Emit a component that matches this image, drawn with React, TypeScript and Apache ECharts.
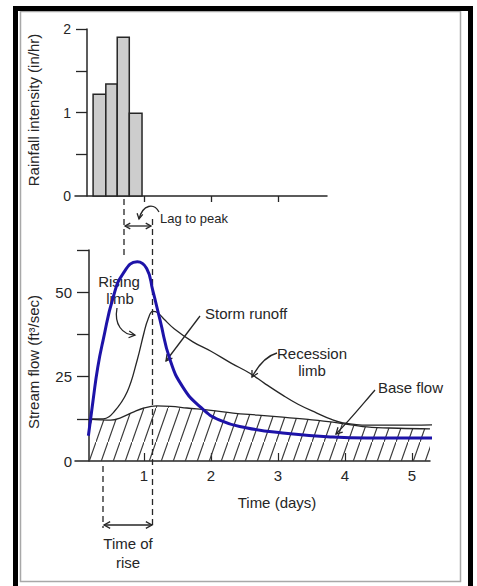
import React, { useEffect, useRef } from "react";
import * as echarts from "echarts";

// Rainfall hyetograph (in/hr), blocks defined by start/end time (days)
const rainStart = [0.24, 0.43, 0.6, 0.78];
const rainEnd = [0.43, 0.6, 0.78, 0.97];
const rainIntensity = [1.22, 1.34, 1.9, 0.99];

// Total stream flow (storm hydrograph), ft3/sec
const stormTime = [0.18, 0.39, 0.55, 0.75, 0.9, 1.0, 1.06, 1.13, 1.2, 1.3, 1.45, 1.73, 2.0, 2.3, 2.58, 2.8, 3.07, 3.3, 3.58, 3.8, 3.97, 4.33, 5.0, 5.52];
const stormFlow = [12.5, 12.5, 14.5, 20.5, 30, 38, 42, 44.3, 44.0, 42, 39.2, 35.3, 32.5, 29, 26, 23, 19.5, 16.8, 14.2, 12.3, 11.3, 10.6, 10.6, 10.8];

// Base flow (hatched area)
const baseTime = [0.18, 0.35, 0.5, 0.65, 0.84, 1.0, 1.19, 1.4, 1.64, 2.0, 2.33, 2.7, 3.07, 3.45, 3.82, 4.33, 4.8, 5.27];
const baseFlow = [12.4, 12.2, 12.1, 12.8, 14.5, 15.7, 16.3, 16.2, 15.7, 15.0, 14.2, 13.6, 13.0, 12.3, 11.5, 10.1, 9.7, 9.5];

// Overlaid blue hydrograph
const blueTime = [0.17, 0.24, 0.31, 0.39, 0.54, 0.69, 0.9, 1.04, 1.13, 1.24, 1.39, 1.58, 1.84, 2.13, 2.54, 3.07, 3.82, 4.33, 5.84];
const blueFlow = [7.5, 18, 27.8, 35.8, 48.5, 55.6, 59, 57, 50.6, 41.7, 29.9, 21.9, 16, 12.1, 9.8, 8.3, 7.1, 6.8, 6.8];

// Axis ticks / labels
const rainTicks = [0.5, 1, 1.5, 2];
const rainLabels = [0, 1, 2];
const topDayTicks = [1, 2, 3];
const flowTicks = [12.5, 25, 37.5, 50, 62.5];
const flowLabels = [0, 25, 50];
const dayTicks = [1, 2, 3, 4, 5];
const dayLabels = [1, 2, 3, 4, 5];

const FONT = '"Liberation Sans", Arial, sans-serif';
const INK = "#262626";

const hatchSvg =
  '<svg xmlns="http://www.w3.org/2000/svg" width="12" height="34">' +
  '<line x1="-12" y1="68" x2="24" y2="-34" stroke="#3a3a3a" stroke-width="1.2"/></svg>';
const hatchUrl = "data:image/svg+xml;charset=utf-8," + encodeURIComponent(hatchSvg);

function head(x: number, y: number, ang: number, size = 7, z = 6) {
  const a1 = ang + Math.PI - 0.5;
  const a2 = ang + Math.PI + 0.5;
  return {
    type: "polyline",
    z,
    shape: {
      points: [
        [x + size * Math.cos(a1), y + size * Math.sin(a1)],
        [x, y],
        [x + size * Math.cos(a2), y + size * Math.sin(a2)],
      ],
    },
    style: { stroke: INK, lineWidth: 1.3, fill: "none" },
  };
}

function txt(text: string, x: number, y: number, size = 15, align = "left", extra: any = {}) {
  return {
    type: "text",
    z: 1,
    x,
    y,
    ...extra,
    style: {
      text,
      fill: INK,
      fontSize: size,
      fontFamily: FONT,
      align,
      verticalAlign: "middle",
    },
  };
}

function line(x1: number, y1: number, x2: number, y2: number, dashed = false) {
  return {
    type: "line",
    z: 6,
    shape: { x1, y1, x2, y2 },
    style: { stroke: INK, lineWidth: 1.3, lineDash: dashed ? [6, 4] : null },
  };
}

function curve(x1: number, y1: number, cx1: number, cy1: number, cx2: number, cy2: number, x2: number, y2: number) {
  return {
    type: "bezierCurve",
    z: 6,
    shape: { x1, y1, cpx1: cx1, cpy1: cy1, cpx2: cx2, cpy2: cy2, x2, y2 },
    style: { stroke: INK, lineWidth: 1.3, fill: "none" },
  };
}

export default function App() {
  const ref = useRef<HTMLDivElement>(null);

  useEffect(() => {
    if (!ref.current) return;
    const chart = echarts.init(ref.current, null, { renderer: "svg" });

    const axisLabelBase = { color: INK, fontSize: 15, fontFamily: FONT };

    const option: any = {
      animation: false,
      backgroundColor: "#ffffff",
      grid: [
        { left: 75, top: 29, width: 252, height: 167 },
        { left: 75, top: 250, width: 355, height: 211 },
      ],
      xAxis: [
        {
          type: "value",
          gridIndex: 0,
          min: -0.03,
          max: 3.73,
          splitLine: { show: false },
          axisLine: { lineStyle: { color: INK, width: 1.5 } },
          axisTick: { customValues: topDayTicks, length: 6, lineStyle: { color: INK, width: 1.3 } },
          axisLabel: { show: false },
        },
        {
          type: "value",
          gridIndex: 1,
          min: -0.03,
          max: 5.27,
          splitLine: { show: false },
          axisLine: { lineStyle: { color: INK, width: 1.5 } },
          axisTick: { customValues: dayTicks, inside: true, length: 8, lineStyle: { color: INK, width: 1.2 } },
          axisLabel: { ...axisLabelBase, customValues: dayLabels, margin: 7 },
        },
      ],
      yAxis: [
        {
          type: "value",
          gridIndex: 0,
          min: 0,
          max: 2,
          offset: -12,
          splitLine: { show: false },
          axisLine: { show: true, lineStyle: { color: INK, width: 1.5 } },
          axisTick: { show: true, customValues: rainTicks, length: 11, lineStyle: { color: INK, width: 1.3 } },
          axisLabel: { ...axisLabelBase, fontSize: 14, customValues: rainLabels, margin: 16 },
        },
        {
          type: "value",
          gridIndex: 1,
          min: 0,
          max: 62.5,
          offset: -14,
          splitLine: { show: false },
          axisLine: { show: true, lineStyle: { color: INK, width: 1.5 } },
          axisTick: { show: true, customValues: flowTicks, length: 12, lineStyle: { color: INK, width: 1.3 } },
          axisLabel: { ...axisLabelBase, customValues: flowLabels, margin: 17 },
        },
      ],
      series: [
        {
          type: "custom",
          xAxisIndex: 0,
          yAxisIndex: 0,
          data: rainStart.map((s, i) => [s, rainEnd[i], rainIntensity[i]]),
          encode: { x: [0, 1], y: 2 },
          renderItem: (params: any, api: any) => {
            const p0 = api.coord([api.value(0), api.value(2)]);
            const p1 = api.coord([api.value(1), 0]);
            return {
              type: "rect",
              shape: { x: p0[0], y: p0[1], width: p1[0] - p0[0], height: p1[1] - p0[1] },
              style: { fill: "#cdcdcd", stroke: INK, lineWidth: 1.5 },
            };
          },
        },
        {
          type: "line",
          xAxisIndex: 1,
          yAxisIndex: 1,
          data: baseTime.map((t, i) => [t, baseFlow[i]]),
          smooth: 0.4,
          symbol: "none",
          z: 3,
          lineStyle: { color: INK, width: 1.3 },
          areaStyle: {
            opacity: 1,
            color: { image: hatchUrl, repeat: "repeat", imageWidth: 12, imageHeight: 34 },
          },
        },
        {
          type: "line",
          xAxisIndex: 1,
          yAxisIndex: 1,
          data: stormTime.map((t, i) => [t, stormFlow[i]]),
          smooth: 0.4,
          symbol: "none",
          clip: false,
          z: 4,
          lineStyle: { color: INK, width: 1.3 },
        },
        {
          type: "line",
          xAxisIndex: 1,
          yAxisIndex: 1,
          data: blueTime.map((t, i) => [t, blueFlow[i]]),
          smooth: 0.5,
          symbol: "none",
          clip: false,
          z: 10,
          lineStyle: { color: "#1d13a8", width: 3 },
        },
      ],
      graphic: [
        // frame
        {
          type: "rect",
          z: 20,
          shape: { x: 15.5, y: 8.5, width: 455, height: 600 },
          style: { fill: "none", stroke: "#000", lineWidth: 5 },
        },
        {
          type: "rect",
          z: 19,
          shape: { x: 20.5, y: 11.5, width: 440, height: 570 },
          style: { fill: "none", stroke: "#a8a8a8", lineWidth: 1.5 },
        },
        // axis names
        txt("Rainfall intensity (in/hr)", 33, 110, 15, "center", { rotation: Math.PI / 2 }),
        txt("Stream flow (ft³/sec)", 33, 362, 15, "center", { rotation: Math.PI / 2 }),
        txt("Time (days)", 277, 502, 15, "center"),
        // dashed lines
        line(124, 199, 124, 258, true),
        line(152.5, 219, 152.5, 528, true),
        line(103, 466, 103, 528, true),
        // lag to peak arrow
        line(125, 226, 151, 226),
        head(125, 226, Math.PI, 6),
        head(151, 226, 0, 6),
        curve(159, 212, 154, 203, 143, 204, 139, 219),
        head(139, 219, 1.75, 6),
        txt("Lag to peak", 160, 218, 13),
        // time of rise arrow
        line(104, 525, 152, 525),
        head(104, 525, Math.PI, 7),
        head(152, 525, 0, 7),
        txt("Time of", 128, 543, 15, "center"),
        txt("rise", 128, 562, 15, "center"),
        // rising limb
        txt("Rising", 119, 281, 15, "center"),
        txt("limb", 120, 298, 15, "center"),
        curve(117, 308, 114, 324, 122, 335, 135, 335),
        head(135, 335, 0.1, 7),
        // storm runoff
        txt("Storm runoff", 205, 313, 15),
        line(200, 316, 166, 361),
        head(166, 361, Math.atan2(45, -34), 7),
        // recession limb
        txt("Recession", 277, 353, 15),
        txt("limb", 312, 370, 15, "center"),
        curve(277, 353, 266, 356, 258, 366, 252, 377),
        head(252, 377, Math.atan2(11, -6), 7),
        // base flow
        txt("Base flow", 378, 387, 15),
        curve(375, 390, 362, 405, 350, 420, 336, 434),
        head(336, 434, Math.atan2(14, -14), 7),
      ],
    };

    chart.setOption(option);
    return () => chart.dispose();
  }, []);

  return (
    <div
      ref={ref}
      style={{ position: "absolute", left: 0, top: 0, width: 477, height: 586, background: "#fff" }}
    />
  );
}
